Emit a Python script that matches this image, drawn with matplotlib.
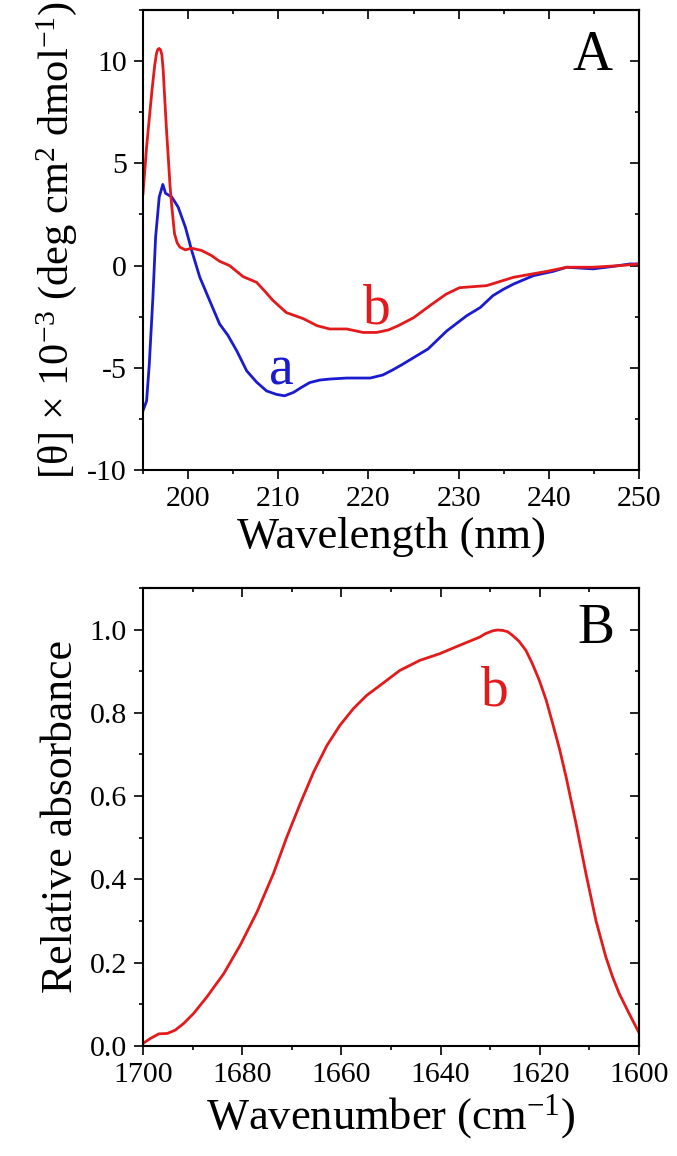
import matplotlib
matplotlib.use("Agg")
import matplotlib.pyplot as plt
from matplotlib.ticker import MultipleLocator, FormatStrFormatter

plt.rcParams['font.family'] = ['Liberation Serif', 'DejaVu Serif']
plt.rcParams['mathtext.fontset'] = 'custom'
plt.rcParams['mathtext.rm'] = 'Liberation Serif'
plt.rcParams['mathtext.it'] = 'Liberation Serif:italic'
plt.rcParams['axes.unicode_minus'] = False

RED = '#e31a1c'
BLUE = '#1a1ad0'

# panel A: CD spectra
wl_a = [195.0, 195.4, 195.7, 196.1, 196.4, 196.8, 197.2, 197.5, 198.2, 198.9,
        199.7, 200.4, 201.3, 202.4, 203.5, 204.4, 205.4, 206.5, 207.6, 208.7,
        209.8, 210.7, 211.7, 212.6, 213.5, 214.6, 215.7, 217.6, 220.2, 221.6,
        222.7, 223.7, 225.2, 226.6, 228.7, 230.9, 232.4, 233.8, 235.0, 236.1,
        238.3, 240.5, 242.0, 244.9, 247.1, 249.0, 250.0]
theta_a = [-7.10, -6.62, -4.82, -1.55, 1.39, 3.35, 3.97, 3.54, 3.35, 2.86,
           1.88, 0.74, -0.57, -1.72, -2.86, -3.40, -4.17, -5.15, -5.70, -6.13,
           -6.30, -6.37, -6.20, -5.95, -5.72, -5.60, -5.55, -5.50, -5.50, -5.35,
           -5.10, -4.85, -4.45, -4.08, -3.19, -2.45, -2.05, -1.47, -1.15, -0.90,
           -0.49, -0.28, -0.08, -0.16, -0.04, 0.08, 0.08]

wl_b = [195.0, 195.4, 195.7, 196.0, 196.3, 196.5, 196.65, 196.8, 196.95, 197.1,
        197.25, 197.4, 197.6, 197.8, 198.0, 198.2, 198.5, 198.8, 199.1, 199.7,
        200.4, 201.5, 202.6, 203.5, 204.6, 206.1, 207.6, 208.5, 209.4, 210.9,
        212.8, 214.3, 215.7, 217.6, 219.4, 220.9, 222.2, 223.3, 225.0, 227.0,
        228.6, 230.1, 233.1, 236.1, 239.8, 242.0, 244.9, 247.9, 250.0]
theta_b = [3.51, 5.80, 7.20, 8.58, 9.80, 10.38, 10.58, 10.62, 10.55, 10.30,
           9.50, 8.25, 6.70, 5.31, 3.90, 2.86, 1.55, 1.10, 0.90, 0.77,
           0.85, 0.74, 0.49, 0.21, 0.00, -0.54, -0.82, -1.25, -1.70, -2.30,
           -2.60, -2.94, -3.10, -3.10, -3.27, -3.27, -3.15, -2.94, -2.55, -1.90,
           -1.40, -1.08, -0.98, -0.57, -0.28, -0.08, -0.08, 0.00, 0.08]

# panel B: FTIR amide I band
wn = [1700.0, 1698.5, 1696.8, 1695.1, 1693.5, 1691.8, 1689.8, 1687.1, 1683.7, 1680.4,
      1677.0, 1673.7, 1671.0, 1668.3, 1665.6, 1662.9, 1660.3, 1657.6, 1654.9, 1652.2,
      1648.2, 1644.2, 1640.2, 1636.2, 1632.1, 1631.0, 1629.5, 1628.5, 1627.5, 1626.5,
      1625.5, 1624.2, 1622.8, 1621.5, 1620.1, 1618.7, 1617.4, 1616.0, 1614.7, 1612.7,
      1610.7, 1608.7, 1606.7, 1605.3, 1604.0, 1602.0, 1600.1]
absb = [0.006, 0.018, 0.029, 0.030, 0.038, 0.054, 0.078, 0.118, 0.174, 0.242,
        0.322, 0.414, 0.502, 0.582, 0.658, 0.722, 0.770, 0.810, 0.842, 0.866,
        0.902, 0.926, 0.942, 0.962, 0.982, 0.990, 0.997, 0.999, 0.998, 0.995,
        0.986, 0.972, 0.950, 0.918, 0.878, 0.830, 0.774, 0.712, 0.646, 0.534,
        0.414, 0.302, 0.214, 0.165, 0.126, 0.078, 0.034]

fig = plt.figure(figsize=(6.77, 11.56), dpi=100)
axA = fig.add_axes([0.2112, 0.5934, 0.7327, 0.3979])
axB = fig.add_axes([0.2112, 0.0952, 0.7327, 0.3962])


def style(ax, xmaj, xmin, ymaj, ymin):
    for s in ax.spines.values():
        s.set_linewidth(1.5)
    ax.xaxis.set_major_locator(MultipleLocator(xmaj))
    ax.xaxis.set_minor_locator(MultipleLocator(xmin))
    ax.yaxis.set_major_locator(MultipleLocator(ymaj))
    ax.yaxis.set_minor_locator(MultipleLocator(ymin))
    ax.tick_params(which='major', direction='out', length=6.5, width=1.2,
                   labelsize=21.5, pad=5)
    ax.tick_params(which='minor', direction='out', length=3, width=1.2)
    top = ax.secondary_xaxis('top')
    top.xaxis.set_major_locator(MultipleLocator(xmaj))
    top.xaxis.set_minor_locator(MultipleLocator(xmin))
    top.tick_params(which='major', direction='in', length=6.5, width=1.2, labeltop=False)
    top.tick_params(which='minor', direction='in', length=3, width=1.2)
    right = ax.secondary_yaxis('right')
    right.yaxis.set_major_locator(MultipleLocator(ymaj))
    right.yaxis.set_minor_locator(MultipleLocator(ymin))
    right.tick_params(which='major', direction='in', length=6.5, width=1.2, labelright=False)
    right.tick_params(which='minor', direction='in', length=3, width=1.2)
    for sec in (top, right):
        for s in sec.spines.values():
            s.set_linewidth(1.5)


axA.plot(wl_a, theta_a, color=BLUE, lw=2.0, solid_joinstyle='round')
axA.plot(wl_b, theta_b, color=RED, lw=2.0, solid_joinstyle='round')
axA.set_xlim(195, 250)
axA.set_ylim(-10, 12.5)
style(axA, 10, 5, 5, 2.5)
axA.yaxis.set_major_formatter(FormatStrFormatter('%d'))
axA.set_xlabel('Wavelength (nm)', fontsize=32, labelpad=3)
axA.set_ylabel(r'[θ] × 10$^{-3}$ (deg cm$^{2}$ dmol$^{-1}$)', fontsize=30.5, labelpad=6)
axA.text(244.8, 9.56, 'A', fontsize=40, ha='center', va='baseline')
axA.text(210.4, -5.8, 'a', fontsize=40, ha='center', va='baseline', color=BLUE)
axA.text(220.9, -2.85, 'b', fontsize=40, ha='center', va='baseline', color=RED)

axB.plot(wn, absb, color=RED, lw=2.0, solid_joinstyle='round')
axB.set_xlim(1700, 1600)
axB.set_ylim(0, 1.1)
style(axB, 20, 10, 0.2, 0.1)
axB.yaxis.set_major_formatter(FormatStrFormatter('%.1f'))
axB.set_xlabel('Wavenumber (cm$^{-1}$)', fontsize=32, labelpad=3)
axB.set_ylabel('Relative absorbance', fontsize=31.5, labelpad=6)
axB.text(1608.6, 0.967, 'B', fontsize=40, ha='center', va='baseline')
axB.text(1629.1, 0.818, 'b', fontsize=40, ha='center', va='baseline', color=RED)

fig.savefig('out.png', dpi=100)
